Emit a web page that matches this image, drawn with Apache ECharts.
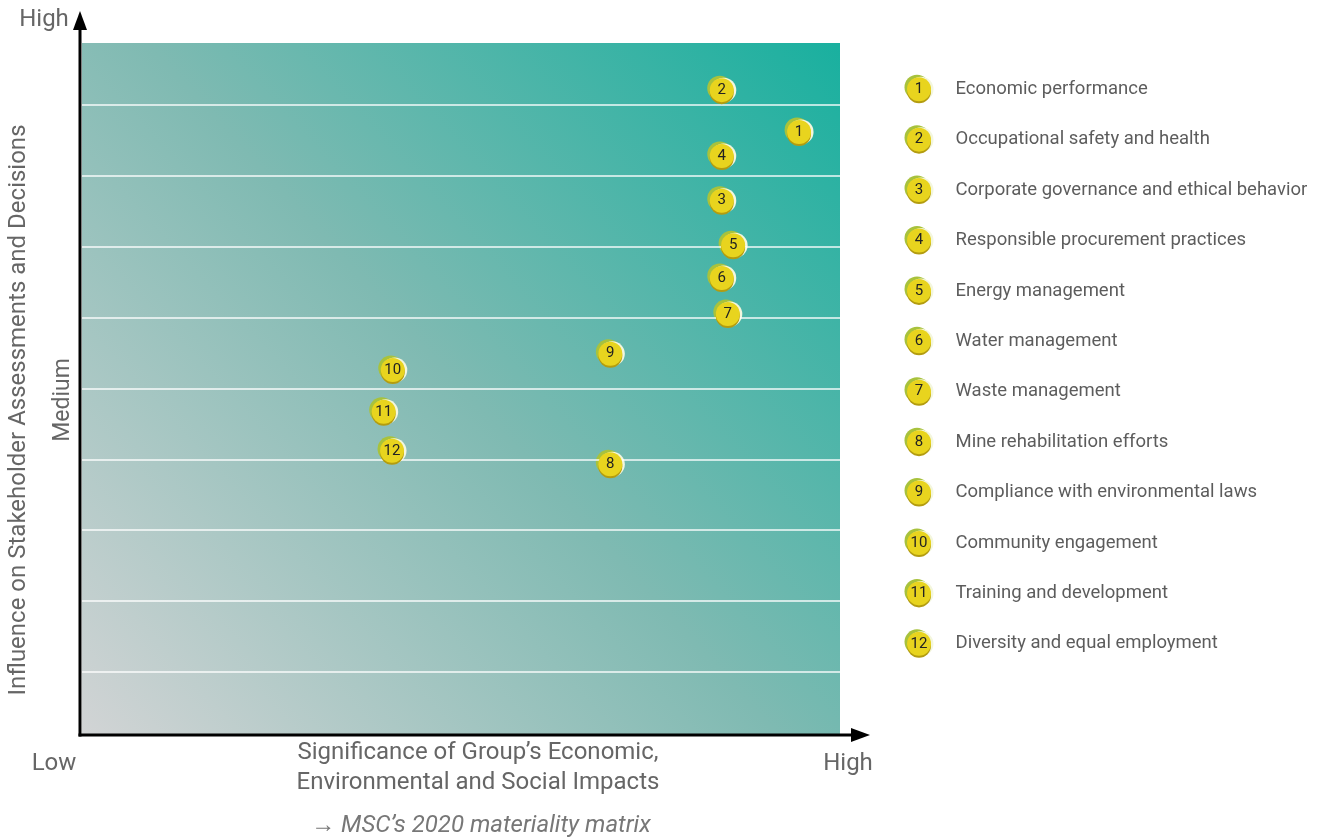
<!DOCTYPE html>
<html>
<head>
<meta charset="utf-8">
<script src="https://cdn.jsdelivr.net/npm/echarts@6/dist/echarts.min.js"></script>
<style>
  html, body { margin: 0; padding: 0; background: #fff; }
  #chart { width: 1320px; height: 838px; }
</style>
</head>
<body>
<div id="chart"></div>
<script>
// topics of the materiality matrix (numbered 1..12)
const topics = [
  'Economic performance',
  'Occupational safety and health',
  'Corporate governance and ethical behavior',
  'Responsible procurement practices',
  'Energy management',
  'Water management',
  'Waste management',
  'Mine rehabilitation efforts',
  'Compliance with environmental laws',
  'Community engagement',
  'Training and development',
  'Diversity and equal employment'
];
// x: significance of impacts, y: influence on stakeholders
const significance = [9.46, 8.44, 8.44, 8.44, 8.59, 8.44, 8.52, 6.97, 6.97, 4.10, 3.98, 4.09];
const influence    = [8.62, 9.21, 7.65, 8.28, 7.02, 6.56, 6.05, 3.93, 5.49, 5.26, 4.67, 4.12];
const gridLevels   = [1, 2, 3, 4, 5, 6, 7, 8, 9];

const FONT = 'Roboto';

function coinSeries(xi, yi, data, face) {
  // stack a few offset circles to fake the coin look
  const layers = [
    { color: '#a8c23c', offset: [-2, -2], size: 25 },
    { color: '#f3f6de', offset: [2, 0], size: 25 },
    { color: '#b39c10', offset: [0, 2], size: 24 },
    { color: '#e8d41e', offset: [0, 0], size: 24 }
  ];
  return layers.map(function (l, i) {
    const s = {
      type: 'scatter',
      xAxisIndex: xi,
      yAxisIndex: yi,
      data: data,
      symbol: 'circle',
      symbolSize: l.size,
      symbolOffset: l.offset,
      itemStyle: { color: l.color, opacity: 1 },
      silent: true,
      z: 3 + i
    };
    if (i === layers.length - 1) {
      s.label = {
        show: true,
        position: 'inside',
        color: '#222',
        fontFamily: FONT,
        fontSize: 15,
        formatter: face
      };
    }
    return s;
  });
}

const matrixData = topics.map(function (t, i) {
  return { value: [significance[i], influence[i]], name: String(i + 1) };
});
const legendData = topics.map(function (t, i) {
  return { value: [0.5, t], name: String(i + 1) };
});

const myChart = echarts.init(document.getElementById('chart'));

function txt(x, y, s, size, extra) {
  return Object.assign({
    type: 'text', x: x, y: y,
    style: { text: s, fill: '#666', font: size + 'px ' + FONT, textAlign: 'center', textVerticalAlign: 'middle' }
  }, extra || {});
}

let option = {
  backgroundColor: '#fff',
  animation: false,
  grid: [
    {
      left: 82, right: 480, top: 43, bottom: 103,
      show: true,
      borderWidth: 0,
      backgroundColor: new echarts.graphic.LinearGradient(0, 1, 1, 0, [
        { offset: 0, color: '#d2d4d5' },
        { offset: 0.5, color: '#7fbab2' },
        { offset: 1, color: '#19b09f' }
      ])
    },
    { left: 905, width: 28, top: 64, height: 605 }
  ],
  xAxis: [
    { type: 'value', min: 0, max: 10, show: false, gridIndex: 0 },
    { type: 'value', min: 0, max: 1, show: false, gridIndex: 1 }
  ],
  yAxis: [
    { type: 'value', min: 0.11, max: 9.875, show: false, gridIndex: 0 },
    { type: 'category', data: topics, inverse: true, show: false, gridIndex: 1 }
  ],
  graphic: [
    // axes with arrows
    { type: 'line', shape: { x1: 80, y1: 736.5, x2: 80, y2: 28 }, style: { stroke: '#000', lineWidth: 3 }, z: 10 },
    { type: 'polygon', shape: { points: [[80, 11], [73, 30], [87, 30]] }, style: { fill: '#000' }, z: 10 },
    { type: 'line', shape: { x1: 78.5, y1: 735, x2: 855, y2: 735 }, style: { stroke: '#000', lineWidth: 3 }, z: 10 },
    { type: 'polygon', shape: { points: [[870, 735], [851, 728], [851, 742]] }, style: { fill: '#000' }, z: 10 },
    // axis texts
    txt(44, 20, 'High', 24),
    txt(54, 764, 'Low', 24),
    txt(848, 764, 'High', 24),
    txt(63, 400, 'Medium', 23, { rotation: Math.PI / 2 }),
    txt(19, 410, 'Influence on Stakeholder Assessments and Decisions', 24, { rotation: Math.PI / 2 }),
    txt(478, 753, 'Significance of Group\u2019s Economic,', 24),
    txt(478, 783, 'Environmental and Social Impacts', 24),
    { type: 'text', x: 481, y: 826, style: { text: '\u2192 MSC\u2019s 2020 materiality matrix', fill: '#777', font: 'italic 24px ' + FONT, textAlign: 'center', textVerticalAlign: 'middle' } }
  ],
  series: [
    {
      // white horizontal grid lines
      type: 'line',
      data: [],
      xAxisIndex: 0,
      yAxisIndex: 0,
      markLine: {
        silent: true,
        symbol: ['none', 'none'],
        label: { show: false },
        lineStyle: { color: 'rgba(255,255,255,0.92)', width: 1.5, type: 'solid' },
        data: gridLevels.map(function (v) { return { yAxis: v }; })
      }
    },
    // legend text
    {
      type: 'scatter',
      xAxisIndex: 1,
      yAxisIndex: 1,
      data: legendData,
      symbolSize: 1,
      itemStyle: { color: 'rgba(0,0,0,0)' },
      silent: true,
      label: {
        show: true,
        position: 'right',
        distance: 36,
        color: '#333',
        fontFamily: FONT,
        fontSize: 18.5,
        formatter: function (p) { return p.value[1]; }
      }
    }
  ]
    .concat(coinSeries(0, 0, matrixData, '{b}'))
    .concat(coinSeries(1, 1, legendData, '{b}'))
};

myChart.setOption(option);
</script>
</body>
</html>
